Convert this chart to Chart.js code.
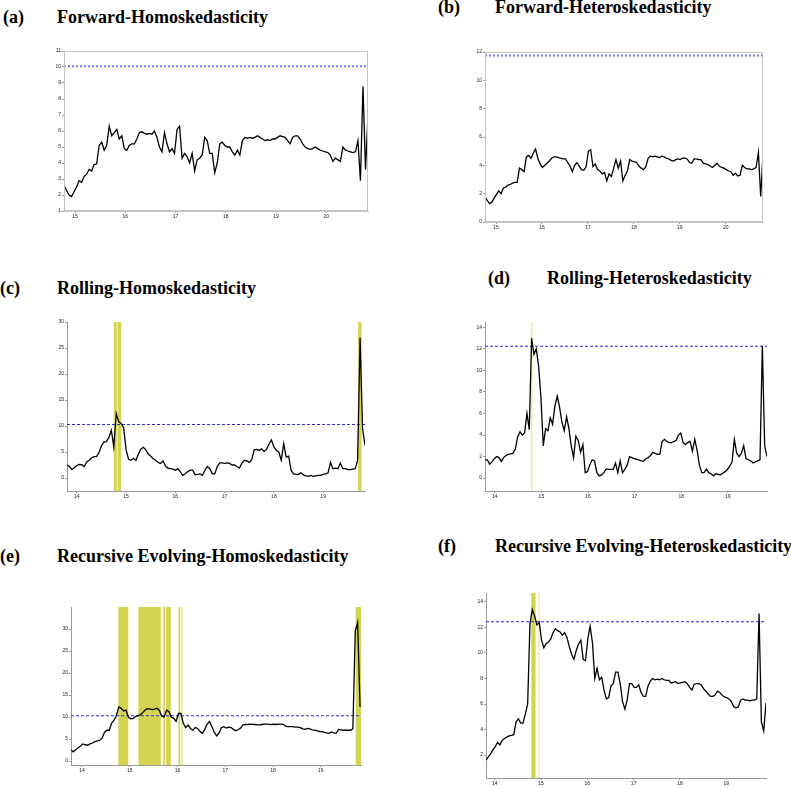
<!DOCTYPE html>
<html>
<head>
<meta charset="utf-8">
<script src="https://cdn.jsdelivr.net/npm/chart.js@4.4.0/dist/chart.umd.min.js"></script>
<style>
  body { margin: 0; width: 791px; height: 788px; position: relative; overflow: hidden; background: #fff; }
  .lbl { position: absolute; font-family: "Liberation Serif", "Times New Roman", serif; font-weight: bold;
         font-size: 18px; line-height: 18px; white-space: nowrap; color: #000; }
  canvas { position: absolute; }
</style>
</head>
<body>
<div class="lbl" style="left:3px;top:8px">(a)</div>
<div class="lbl" style="left:57px;top:8px">Forward-Homoskedasticity</div>
<div class="lbl" style="left:438px;top:-2px">(b)</div>
<div class="lbl" style="left:495px;top:-2px">Forward-Heteroskedasticity</div>
<div class="lbl" style="left:0px;top:279px">(c)</div>
<div class="lbl" style="left:57px;top:279px">Rolling-Homoskedasticity</div>
<div class="lbl" style="left:488px;top:269px">(d)</div>
<div class="lbl" style="left:547px;top:269px">Rolling-Heteroskedasticity</div>
<div class="lbl" style="left:0px;top:547px">(e)</div>
<div class="lbl" style="left:57px;top:547px">Recursive Evolving-Homoskedasticity</div>
<div class="lbl" style="left:438px;top:537px">(f)</div>
<div class="lbl" style="left:495px;top:537px">Recursive Evolving-Heteroskedasticity</div>
<script>
// sampling step of every series, in years (14 = 2014 ...)
const step = 0.05;

const fwdHomoStart = 14.78;
const fwdHomo = [2.6,2.3,2.0,1.9,2.2,2.5,2.9,2.8,3.15,3.3,
  3.6,3.5,3.9,3.95,5.1,5.3,4.8,5.1,6.3,5.7,
  5.9,6.1,5.5,5.7,4.9,4.8,5.1,5.2,5.2,5.5,
  5.9,5.95,5.85,5.8,5.85,5.8,6.0,5.6,5.0,4.7,
  5.9,5.2,4.7,4.9,4.6,6.1,6.3,4.3,4.6,4.4,
  4.0,4.6,3.5,4.2,4.3,4.5,5.6,5.4,4.6,4.6,
  3.4,4.0,5.2,5.3,5.1,5.0,5.0,4.7,4.5,4.8,
  4.5,5.4,5.6,5.55,5.6,5.55,5.6,5.7,5.6,5.5,
  5.4,5.45,5.4,5.5,5.5,5.6,5.7,5.65,5.6,5.4,
  5.2,5.6,5.7,5.7,5.5,5.2,5.0,4.9,4.85,4.9,
  5.0,4.9,4.8,4.75,4.7,4.65,4.5,4.1,4.3,4.2,
  4.1,5.0,4.8,4.75,4.7,4.65,4.7,5.4,2.9,8.8,
  3.6,7.0];

const fwdHeteroStart = 14.76;
const fwdHetero = [1.8,1.5,1.3,1.4,1.7,1.95,2.2,2.0,2.4,2.45,
  2.6,2.65,2.75,2.8,2.8,3.8,3.7,3.55,4.6,4.7,
  4.5,4.85,5.15,4.5,4.1,3.85,4.0,4.15,4.3,4.5,
  4.6,4.6,4.55,4.5,4.45,4.45,4.2,3.95,3.55,4.0,
  4.2,3.95,3.7,3.65,3.9,5.0,5.1,3.9,4.1,3.7,
  3.6,3.4,3.5,2.9,3.4,3.2,3.8,4.4,3.8,4.3,
  2.9,3.3,3.6,4.4,4.3,4.25,4.2,3.95,3.8,3.7,
  3.9,4.5,4.65,4.6,4.65,4.6,4.55,4.65,4.6,4.5,
  4.45,4.35,4.3,4.4,4.45,4.4,4.5,4.5,4.45,4.2,
  4.15,4.45,4.45,4.4,4.4,4.15,4.1,4.05,3.95,3.85,
  4.0,4.15,3.95,3.85,3.8,3.7,3.6,3.55,3.3,3.45,
  3.25,3.3,4.0,3.85,3.75,3.75,3.7,3.75,3.85,4.9,
  1.8,4.8];

const rollHomoStart = 13.8;
const rollHomo = [2.5,2.2,1.6,2.0,2.4,2.6,2.55,2.2,3.1,3.4,
  3.9,4.1,4.1,4.9,6.2,6.9,7.0,7.8,9.2,6.0,
  12.4,10.8,10.5,9.7,5.4,3.6,3.4,3.8,3.4,4.6,
  5.6,5.9,5.4,4.6,4.2,3.7,3.4,3.0,2.8,3.3,
  2.3,1.9,1.8,1.7,1.5,1.8,1.2,0.5,0.8,1.2,
  1.5,1.5,0.6,0.7,0.8,0.5,1.5,2.2,1.8,0.8,
  0.8,2.2,2.9,2.9,2.8,2.9,2.8,2.5,2.5,2.2,
  1.9,2.8,3.4,3.3,3.0,3.5,5.4,5.5,5.3,5.6,
  5.1,5.5,6.5,7.3,6.0,5.3,5.0,3.4,6.6,4.0,
  4.2,1.5,0.8,0.7,0.7,1.0,0.6,0.4,0.3,0.5,
  0.3,0.4,0.5,0.5,0.7,0.8,1.0,3.0,1.8,1.9,
  1.8,2.9,1.8,1.8,1.6,1.6,1.7,1.8,3.4,27.0,
  9.5,6.3];

const rollHeteroStart = 13.79;
const rollHetero = [1.7,1.7,1.3,1.5,1.8,2.0,1.9,1.55,1.9,2.1,
  2.2,2.25,2.3,2.7,3.8,4.3,4.0,4.2,6.0,4.5,
  13.0,11.5,12.0,10.4,7.5,3.0,4.6,4.4,5.6,5.0,
  6.7,7.6,6.6,5.2,4.4,5.7,4.6,3.0,1.9,3.9,
  3.5,2.4,3.1,0.5,0.6,1.25,1.7,1.6,0.5,0.2,
  0.3,0.5,0.85,0.8,0.8,0.8,1.4,0.5,1.6,0.5,
  0.8,1.2,2.0,1.9,1.8,1.75,1.7,1.6,1.55,1.8,
  1.9,2.1,2.4,2.3,2.2,2.2,3.4,3.6,3.4,3.3,
  3.3,3.4,3.5,4.0,4.2,3.3,3.1,3.3,3.4,2.5,
  3.6,2.6,1.2,0.5,0.5,0.85,0.5,0.4,0.2,0.4,
  0.35,0.3,0.45,0.6,0.8,1.1,1.5,3.6,2.3,2.0,
  2.3,3.0,1.8,1.7,1.6,1.4,1.5,1.6,1.7,12.3,
  3.0,2.0];

const recHomoStart = 13.77;
const recHomo = [2.5,2.1,2.6,3.0,3.4,3.9,3.7,3.6,3.9,4.1,
  4.4,4.6,4.7,5.2,6.5,7.0,7.0,8.6,9.3,10.3,
  12.3,12.0,11.4,11.6,10.0,9.6,9.7,10.1,10.3,10.5,
  11.0,11.6,11.9,11.8,11.7,11.8,12.0,11.5,10.2,10.0,
  11.6,11.2,10.0,9.7,9.0,10.8,10.8,8.6,7.6,8.2,
  7.4,7.0,7.6,7.4,6.7,6.3,7.2,8.4,9.0,7.8,
  6.5,5.7,6.4,7.6,7.8,7.5,7.7,7.6,7.2,6.9,
  7.1,7.5,8.2,8.3,8.3,8.4,8.35,8.3,8.2,8.2,
  8.3,8.4,8.4,8.35,8.3,8.4,8.3,8.4,8.4,8.3,
  7.9,7.8,7.8,7.8,7.7,7.7,7.6,7.3,7.2,7.4,
  7.3,7.1,7.0,6.9,6.7,6.7,6.5,6.4,6.3,6.6,
  6.4,6.3,7.2,7.1,7.0,7.0,7.0,7.0,7.3,29.5,
  31.5,12.3];

const recHeteroStart = 13.81;
const recHetero = [1.6,1.85,2.1,2.4,2.65,3.0,2.8,3.15,3.3,3.4,
  3.5,3.55,3.6,4.6,4.85,4.5,4.5,5.2,6.0,12.3,
  13.4,12.9,12.2,12.4,11.0,10.4,10.75,10.85,11.1,11.6,
  11.9,11.75,11.65,11.4,11.6,11.2,10.5,9.9,9.5,10.2,
  10.7,11.0,9.5,9.4,11.1,12.1,10.8,8.0,8.8,7.9,
  8.1,7.1,6.4,6.5,7.4,7.6,8.5,8.5,7.6,6.2,
  5.6,6.3,7.6,7.6,7.3,7.3,7.5,6.9,6.6,6.6,
  7.4,7.8,8.0,7.9,7.95,7.9,8.0,7.9,7.85,7.85,
  7.65,7.7,7.75,7.6,7.65,7.7,7.75,7.6,7.3,7.1,
  7.55,7.6,7.6,7.5,7.2,7.0,6.8,6.6,6.6,6.7,
  7.0,6.9,6.7,6.55,6.5,6.4,6.2,5.8,5.7,5.75,
  6.3,6.4,6.3,6.3,6.25,6.3,6.3,6.4,13.1,4.6,
  3.9,6.1];

// critical values (dashed lines)
const cvFwdHomo = 10.05, cvFwdHetero = 11.75, cvRollHomo = 10.3;
const cvRollHetero = 12.25, cvRecHomo = 10.3, cvRecHetero = 12.45;

// shaded periods [from, to]
const bandsRollHomo = [[14.75, 14.81], [14.83, 14.90], [19.71, 19.78]];
const paleRollHomo = [[14.81, 14.83]];
const bandsRollHetero = [];
const paleRollHetero = [[14.775, 14.81]];
const bandsRecHomo = [[14.76, 14.97], [15.18, 15.65], [15.70, 15.74], [15.76, 15.86], [16.02, 16.05], [19.73, 19.84]];
const paleRecHomo = [[16.06, 16.11]];
const bandsRecHetero = [[14.79, 14.88]];
const paleRecHetero = [[14.94, 14.97]];

// tick labels
const xTicksFwd = [15, 16, 17, 18, 19, 20];
const xTicksRoll = [14, 15, 16, 17, 18, 19];
const yTicksFwdHomo = [1, 2, 3, 4, 5, 6, 7, 8, 9, 10, 11];
const yTicksFwdHetero = [0, 2, 4, 6, 8, 10, 12];
const yTicksRollHomo = [0, 5, 10, 15, 20, 25, 30];
const yTicksRollHetero = [0, 2, 4, 6, 8, 10, 12, 14];
const yTicksRecHomo = [0, 5, 10, 15, 20, 25, 30];
const yTicksRecHetero = [2, 4, 6, 8, 10, 12, 14];

const shadePlugin = {
  id: "shade",
  beforeDatasetsDraw(chart, args, opts) {
    const { ctx, chartArea: a } = chart;
    const x = chart.scales.x;
    ctx.save();
    ctx.beginPath();
    ctx.rect(a.left, a.top, a.width, a.height);
    ctx.clip();
    const paint = (list, color) => list.forEach(b => {
      const x0 = x.getPixelForValue(b[0]);
      const x1 = x.getPixelForValue(b[1]);
      ctx.fillStyle = color;
      ctx.fillRect(x0, a.top, Math.max(1, x1 - x0), a.height);
    });
    paint(opts.pale || [], "#eeeea8");
    paint(opts.bands || [], "#d4d452");
    ctx.restore();
  },
  afterDraw(chart, args, opts) {
    if (!opts.box) return;
    const { ctx, chartArea: a } = chart;
    ctx.save();
    ctx.strokeStyle = "#c4c4c4";
    ctx.lineWidth = 1;
    ctx.strokeRect(a.left + 0.5, a.top + 0.5, a.width - 1, a.height - 1);
    ctx.restore();
  }
};

function toPoints(start, values) {
  return values.map((v, i) => ({ x: start + i * step, y: v }));
}

function makePanel(p) {
  const cvs = document.createElement("canvas");
  cvs.width = p.box[2];
  cvs.height = p.box[3];
  cvs.style.left = p.box[0] + "px";
  cvs.style.top = p.box[1] + "px";
  document.body.appendChild(cvs);

  const tickFont = { family: "Liberation Sans", size: 5 };
  const cvLine = p.light
    ? { borderColor: "#7878ff", borderWidth: 2, borderDash: [2, 2] }
    : { borderColor: "#2b2bdc", borderWidth: 1.1, borderDash: [3, 2] };

  new Chart(cvs.getContext("2d"), {
    type: "line",
    data: {
      datasets: [
        {
          data: toPoints(p.start, p.values),
          borderColor: "#000",
          borderWidth: 1.3,
          pointRadius: 0,
          tension: 0
        },
        Object.assign({
          data: [{ x: p.xr[0], y: p.cv }, { x: p.xr[1], y: p.cv }],
          pointRadius: 0
        }, cvLine)
      ]
    },
    options: {
      responsive: false,
      animation: false,
      devicePixelRatio: 1,
      layout: { padding: { top: 4, right: 4, left: 0, bottom: 0 } },
      plugins: {
        legend: { display: false },
        tooltip: { enabled: false },
        shade: { bands: p.bands, pale: p.pale, box: p.light }
      },
      scales: {
        x: {
          type: "linear",
          min: p.xr[0],
          max: p.xr[1],
          afterBuildTicks: s => { s.ticks = p.xTicks.map(v => ({ value: v })); },
          afterFit: s => { s.height = 12; },
          ticks: { font: tickFont, color: "#222", padding: 1, maxRotation: 0, autoSkip: false },
          grid: { drawOnChartArea: false, tickLength: 2, color: "#999" },
          border: { color: p.light ? "#c4c4c4" : "#9a9a9a" }
        },
        y: {
          min: p.yr[0],
          max: p.yr[1],
          afterBuildTicks: s => { s.ticks = p.yTicks.map(v => ({ value: v })); },
          afterFit: s => { s.width = 14; },
          ticks: { font: tickFont, color: "#222", padding: 1, autoSkip: false },
          grid: { drawOnChartArea: false, tickLength: 2, color: "#999" },
          border: { color: p.light ? "#c4c4c4" : "#9a9a9a" }
        }
      }
    },
    plugins: [shadePlugin]
  });
}

// box = [left, top, width, height] of each canvas on the page
const panels = [
  { box: [50, 47, 322, 176], start: fwdHomoStart, values: fwdHomo, cv: cvFwdHomo, light: true,
    xr: [14.78, 20.83], yr: [1, 11], xTicks: xTicksFwd, yTicks: yTicksFwdHomo, bands: [], pale: [] },
  { box: [471, 48, 296, 186], start: fwdHeteroStart, values: fwdHetero, cv: cvFwdHetero, light: true,
    xr: [14.76, 20.81], yr: [0, 12], xTicks: xTicksFwd, yTicks: yTicksFwdHetero, bands: [], pale: [] },
  { box: [53, 318, 316, 185], start: rollHomoStart, values: rollHomo, cv: cvRollHomo, light: false,
    xr: [13.8, 19.85], yr: [-2.5, 30], xTicks: xTicksRoll, yTicks: yTicksRollHomo,
    bands: bandsRollHomo, pale: paleRollHomo },
  { box: [471, 318, 300, 185], start: rollHeteroStart, values: rollHetero, cv: cvRollHetero, light: false,
    xr: [13.79, 19.84], yr: [-1.2, 14.5], xTicks: xTicksRoll, yTicks: yTicksRollHetero,
    bands: bandsRollHetero, pale: paleRollHetero },
  { box: [57, 603, 308, 174], start: recHomoStart, values: recHomo, cv: cvRecHomo, light: false,
    xr: [13.77, 19.84], yr: [-0.9, 35], xTicks: xTicksRoll, yTicks: yTicksRecHomo,
    bands: bandsRecHomo, pale: paleRecHomo },
  { box: [472, 589, 298, 201], start: recHeteroStart, values: recHetero, cv: cvRecHetero, light: false,
    xr: [13.81, 19.86], yr: [0.2, 14.7], xTicks: xTicksRoll, yTicks: yTicksRecHetero,
    bands: bandsRecHetero, pale: paleRecHetero }
];

panels.forEach(makePanel);
</script>
</body>
</html>
